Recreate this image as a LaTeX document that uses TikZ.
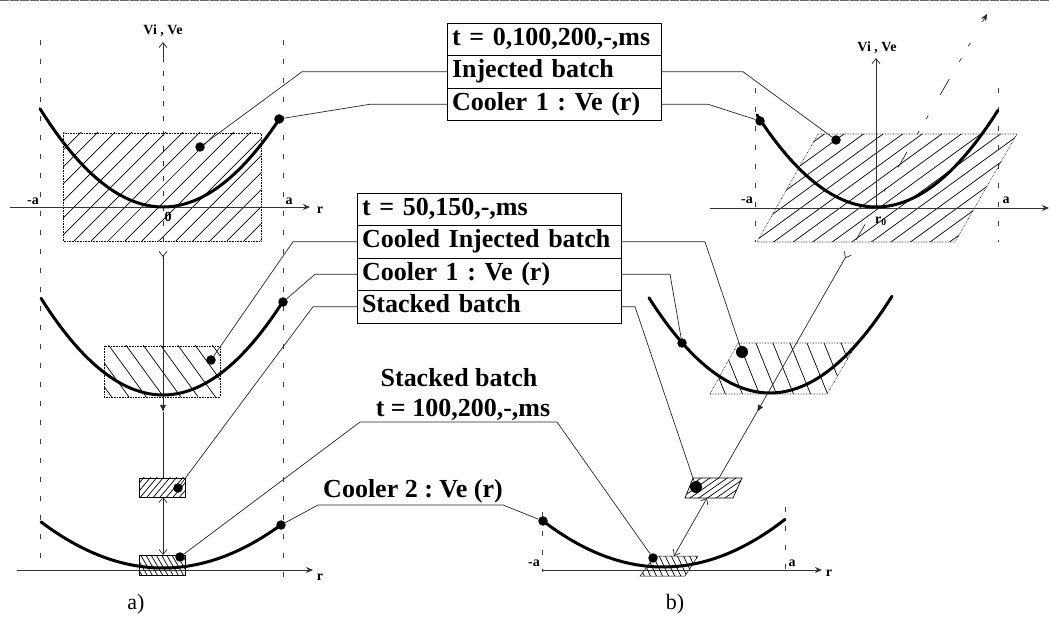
\documentclass[tikz,border=0pt]{standalone}
\usepackage{fontspec}
\setmainfont{Liberation Serif}
\frenchspacing
\usetikzlibrary{arrows.meta,positioning}

\tikzset{
  curve/.style={line width=3pt, line cap=round},
  guide/.style={line width=0.7pt, black!75, dash pattern=on 5pt off 14pt},
  axis/.style={line width=0.8pt, black!80},
  lead/.style={line width=0.7pt, black!85},
  hline/.style={line width=0.7pt, black},
  rim/.style={line width=0.6pt, densely dotted},
  barb/.style={-{Straight Barb[length=5pt, width=8pt]}},
  dot/.style={circle, fill, inner sep=0pt, minimum size=#1},
  dot/.default=9.5pt,
  row/.style={draw, line width=0.9pt, outer sep=0pt, inner xsep=5pt, inner ysep=0pt,
    text width=#1, minimum height=32.5pt, text height=18pt, text depth=6pt,
    font=\fontsize{26}{28}\selectfont\bfseries},
  big/.style={font=\fontsize{26}{28}\selectfont\bfseries, inner sep=0pt},
  lbl/.style={font=\fontsize{14}{14}\selectfont\bfseries, inner sep=0pt},
  tag/.style={font=\fontsize{22}{22}\selectfont, inner sep=0pt},
}
% clip path, centre, angle, gap
\newcommand\hatchfill[4]{%
  \begin{scope}
    \clip #1;
    \foreach \k in {-14,...,14}
      \draw[hline, shift={#2}, rotate=#3] (-220,\k*#4) -- (220,\k*#4);
  \end{scope}}

\begin{document}
\begin{tikzpicture}[x=1pt, y=-1pt, >={Stealth[length=7pt, width=6pt]}]
  \useasboundingbox (0,0) rectangle (1050,617);
  \draw[black!60, line width=1pt, dash pattern=on 9pt off 1pt] (0,0.5) -- (1050,0.5);

  % a) cooler centred on the axis
  \draw[guide] (40,40) -- (40,568);
  \draw[guide] (283,40) -- (283,577);
  \hatchfill{(63,133) rectangle (261,241)}{(162,187)}{45}{12}
  \draw[rim] (63,133) rectangle (261,241);
  \hatchfill{(104,346) rectangle (220,397)}{(162,371)}{-54}{14}
  \draw[rim] (104,346) rectangle (220,397);
  \hatchfill{(139,478) rectangle (185,497)}{(162,487)}{50}{5}
  \draw[line width=0.7pt] (139,478) rectangle (185,497);
  \hatchfill{(139,555) rectangle (185,575)}{(162,565)}{-60}{4.5}
  \draw[line width=0.7pt] (139,555) rectangle (185,575);
  \draw[axis, ->] (10,207) -- (310,207);
  \draw[axis, dash pattern=on 5pt off 10pt] (163,241) -- (163,60);
  \draw[axis, barb] (163,62) -- (163,42);
  \draw[axis, ->] (17,570) -- (313,570);
  \draw[curve] plot[domain=40:279, samples=60] (\x, {207-0.65*((\x-163)/10)^2});
  \draw[curve] plot[domain=41:283, samples=60] (\x, {395-0.65*((\x-163)/10)^2});
  \draw[curve] plot[domain=41:281, samples=60] (\x, {568-0.31*((\x-163)/10)^2});
  \node[lbl] (viA) at (163,31) {Vi , Ve};
  \node[lbl] (maA) at (33,201) {-a};
  \node[lbl] (paA) at (289,201) {a};
  \node[lbl] (zeA) at (168,217) {0};
  \node[lbl] (rA1) at (320,210) {r};
  \node[lbl] (rA2) at (320,577) {r};
  \node[tag] (tagA) at (136,604) {a)};

  % b) cooler shifted by r0
  \draw[guide] (755,88) -- (755,242);
  \draw[guide] (998,88) -- (998,242);
  \draw[guide] (542,512) -- (542,572);
  \draw[guide] (785,507) -- (785,575);
  \hatchfill{(818,134) -- (1017,134) -- (955,242) -- (757,242) -- cycle}{(887,188)}{36}{11.5}
  \draw[rim] (818,134) -- (1017,134) -- (955,242) -- (757,242) -- cycle;
  \hatchfill{(738,343) -- (857,343) -- (827,394) -- (710,394) -- cycle}{(783,368)}{-68}{15.8}
  \draw[rim] (738,343) -- (857,343) -- (827,394) -- (710,394) -- cycle;
  \hatchfill{(693,478) -- (742,478) -- (733,498) -- (685,498) -- cycle}{(713,488)}{35}{5}
  \draw[line width=0.7pt] (693,478) -- (742,478) -- (733,498) -- (685,498) -- cycle;
  \hatchfill{(655,556) -- (698,556) -- (685,576) -- (640,576) -- cycle}{(670,566)}{-65}{5.5}
  \draw[line width=0.5pt] (655,556) -- (698,556) -- (685,576) -- (640,576) -- cycle;
  \draw[axis, ->] (710,208) -- (1049,208);
  \draw[axis, barb] (876,207) -- (876,58);
  \draw[axis, ->] (542,570) -- (822,570);
  \draw[curve] plot[domain=757:998, samples=60] (\x, {207-0.65*((\x-876)/10)^2});
  \draw[curve] plot[domain=649:892, samples=60] (\x, {393-0.65*((\x-770)/10)^2});
  \draw[curve] plot[domain=542:785, samples=60] (\x, {567-0.32*((\x-663)/10)^2});
  \node[lbl] (viB) at (877,48) {Vi , Ve};
  \node[lbl] (maB) at (747,200) {-a};
  \node[lbl] (paB) at (1006,200) {a};
  \node[lbl] (roB) at (881,221) {r\textsubscript{0}};
  \node[lbl] (maC) at (534,563) {-a};
  \node[lbl] (paC) at (792,563) {a};
  \node[lbl] (rC) at (829,573) {r};
  \node[tag] (tagB) at (675,604) {b)};

  % transfer arrows
  \coordinate (aA0) at (163,251);
  \coordinate (aA1) at (163,412);
  \coordinate (aA2) at (163,478);
  \coordinate (aA3) at (163,497);
  \coordinate (aA4) at (163,555);
  \draw[lead, {Straight Barb[reversed, length=5pt, width=8pt]}-{Latex[length=7pt, width=6pt]}] (aA0) -- (aA1);
  \draw[lead] (aA1) -- (aA2);
  \draw[lead, {Straight Barb[length=5pt, width=8pt]}-{Straight Barb[length=5pt, width=8pt]}] (aA3) -- (aA4);
  \coordinate (aB0) at (848,253);
  \coordinate (aB1) at (757,412);
  \coordinate (aB2) at (719,478);
  \coordinate (aB3) at (707,498);
  \coordinate (aB4) at (674,556);
  \coordinate (aB5) at (856,240);
  \coordinate (aB6) at (987,14);
  \draw[lead, {Straight Barb[reversed, length=5pt, width=8pt]}-{Latex[length=7pt, width=6pt]}] (aB0) -- (aB1);
  \draw[lead] (aB1) -- (aB2);
  \draw[lead, {Straight Barb[length=5pt, width=8pt]}-{Straight Barb[length=5pt, width=8pt]}] (aB3) -- (aB4);
  \draw[lead, dash pattern=on 18pt off 20pt on 4pt off 14pt on 4pt off 24pt, ->] (aB5) -- (aB6);

  % batch and cooler markers
  \node[dot] (bA1) at (200,147) {};
  \node[dot] (bA2) at (211,360) {};
  \node[dot] (bA3) at (178,488) {};
  \node[dot] (bA4) at (180,557) {};
  \node[dot] (cA1) at (279,119) {};
  \node[dot] (cA2) at (283,302) {};
  \node[dot] (cA3) at (281,525) {};
  \node[dot] (bB1) at (836,140) {};
  \node[dot=12pt] (bB2) at (742,352) {};
  \node[dot=12pt] (bB3) at (696,487) {};
  \node[dot] (bB4) at (653,558) {};
  \node[dot] (cB1) at (760,121) {};
  \node[dot] (cB2) at (682,343) {};
  \node[dot] (cB3) at (543,521) {};

  % t = 0,100,200 table
  \node[row=204pt, anchor=north west] (t0) at (447,23) {t = 0,100,200,-,ms};
  \node[row=204pt, below=0pt of t0] (inj0) {Injected batch};
  \node[row=204pt, below=0pt of inj0] (c0) {Cooler 1 : Ve (r)};
  \draw[lead] (inj0.west) -- ++(-145,0) -- (bA1);
  \draw[lead] (inj0.east) -- ++(82,0) -- (bB1);
  \draw[lead] (c0.west) -- ++(-77,0) -- (cA1);
  \draw[lead] (c0.east) -- ++(47,0) -- (cB1);

  % t = 50,150 table
  \node[row=254pt, anchor=north west] (t50) at (357,193) {t = 50,150,-,ms};
  \node[row=254pt, below=0pt of t50] (cinj50) {Cooled Injected batch};
  \node[row=254pt, below=0pt of cinj50] (c50) {Cooler 1 : Ve (r)};
  \node[row=254pt, below=0pt of c50] (stk50) {Stacked batch};
  \draw[lead] (cinj50.west) -- ++(-64,0) -- (bA2);
  \draw[lead] (cinj50.east) -- ++(84,0) -- (bB2);
  \draw[lead] (c50.west) -- ++(-42,0) -- (cA2);
  \draw[lead] (c50.east) -- ++(49,0) -- (cB2);
  \draw[lead] (stk50.west) -- ++(-44,0) -- (bA3);
  \draw[lead] (stk50.east) -- ++(14,0) -- (bB3);

  % stacked batch and cooler 2
  \node[big, anchor=base] (stk1) at (459,387) {Stacked batch};
  \node[big, anchor=base] (stk2) at (463,417) {t = 100,200,-,ms};
  \coordinate (stkL) at (360,422);
  \coordinate (stkR) at (557,422);
  \draw[lead] (bA4) -- (stkL) -- (stkR) -- (bB4);
  \node[big, anchor=base] (c2) at (413,497) {Cooler 2 : Ve (r)};
  \coordinate (c2L) at (318,505);
  \coordinate (c2R) at (503,505);
  \draw[lead] (cA3) -- (c2L) -- (c2R) -- (cB3);
\end{tikzpicture}
\end{document}
